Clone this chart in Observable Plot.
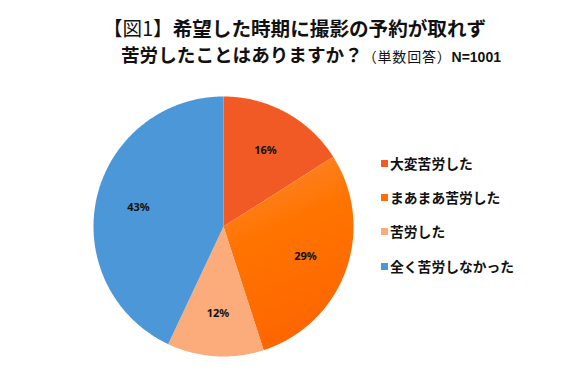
<!DOCTYPE html>
<html><head><meta charset="utf-8">
<script src="https://cdn.jsdelivr.net/npm/d3@7"></script>
<script src="https://cdn.jsdelivr.net/npm/@observablehq/plot@0.6"></script>
<style>
body{margin:0;background:#fff;font-family:"Noto Sans CJK JP",sans-serif;}
#wrap{position:relative;width:572px;height:390px;overflow:hidden;}
.t{position:absolute;white-space:nowrap;font-weight:bold;color:#111;}
#chart{position:absolute;left:0;top:70px;}
#legend{position:absolute;left:381px;top:0;}
.li{position:absolute;white-space:nowrap;font-weight:bold;font-size:13.8px;color:#111;display:flex;align-items:center;}
.sw{width:7px;height:7px;margin-right:2px;display:inline-block;}
</style></head>
<body><div id="wrap">
<div class="t" style="left:103px;top:13px;font-size:19.6px;"><span style="font-weight:normal">【図1】</span>希望した時期に撮影の予約が取れず</div>
<div class="t" style="left:121px;top:40px;font-size:18.6px;">苦労したことはありますか？<span style="font-size:14px;font-weight:normal;letter-spacing:0.8px">（単数回答）</span><span style="font-size:14px;font-family:'Liberation Sans',sans-serif">N=1001</span></div>
<div id="chart"></div>
<div id="legend"></div>
</div>
<script>
const categories = ["大変苦労した", "まあまあ苦労した", "苦労した", "全く苦労しなかった"];
const values = [16, 29, 12, 43];
const labels = ["16%", "29%", "12%", "43%"];
const colors = ["#f15a24", "url(#g29)", "#fcab7b", "#4b97d7"];
const legendColors = ["#f15a24", "#ff6d0a", "#fcab7b", "#4b97d7"];

const pie = d3.pie().sort(null).value(d => d.value)(categories.map((c, i) => ({cat: c, value: values[i], label: labels[i], i})));

const pts = [];
pie.forEach(a => {
  pts.push({cat: a.data.cat, x: 0, y: 0, i: a.data.i});
  const n = Math.max(2, Math.ceil((a.endAngle - a.startAngle) / 0.01));
  for (let k = 0; k <= n; k++) {
    const t = a.startAngle + (a.endAngle - a.startAngle) * k / n;
    pts.push({cat: a.data.cat, x: Math.sin(t), y: Math.cos(t), i: a.data.i});
  }
});
const lab = pie.map(a => {
  const m = (a.startAngle + a.endAngle) / 2;
  return {x: 0.67 * Math.sin(m), y: 0.67 * Math.cos(m), label: a.data.label};
});

const cx = 223, cy = 156, r = 130;
const plot = Plot.plot({
  width: 572, height: 320,
  margin: 0,
  x: {domain: [-1, 1], range: [cx - r, cx + r], axis: null},
  y: {domain: [-1, 1], range: [cy + r, cy - r], axis: null},
  marks: [
    Plot.line(pts, {x: "x", y: "y", z: "cat", curve: "linear-closed", fill: d => colors[d.i], stroke: "none"}),
    Plot.text(lab, {x: "x", y: "y", text: "label", fontSize: 11, fontWeight: "bold", fill: "#111", fontFamily: "'Noto Sans', sans-serif"})
  ]
});
const svg = d3.select(plot);
const defs = svg.insert("defs", ":first-child");
const g = defs.append("linearGradient").attr("id", "g29").attr("x1", "0").attr("y1", "0").attr("x2", "0.3").attr("y2", "1");
g.append("stop").attr("offset", "0%").attr("stop-color", "#fb8a3c");
g.append("stop").attr("offset", "45%").attr("stop-color", "#ff7400");
g.append("stop").attr("offset", "100%").attr("stop-color", "#fe6600");
document.getElementById("chart").appendChild(plot);

const ys = [163, 197, 231, 266];
const leg = document.getElementById("legend");
categories.forEach((c, i) => {
  const d = document.createElement("div");
  d.className = "li";
  d.style.top = (ys[i] - 10) + "px";
  d.style.height = "20px";
  d.innerHTML = `<span class="sw" style="background:${legendColors[i]}"></span>${c}`;
  leg.appendChild(d);
});
</script>
</body></html>
